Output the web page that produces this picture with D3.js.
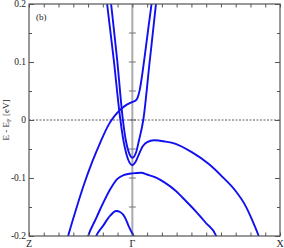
<!DOCTYPE html>
<html><head><meta charset="utf-8">
<script src="https://cdn.jsdelivr.net/npm/d3@7"></script>
<style>body{margin:0;background:#fff}svg{display:block}text{font-family:"Liberation Serif","DejaVu Serif",serif;fill:#222}</style>
</head><body><svg id="c" width="284" height="248"></svg>
<script>
// k-path in tick units: Z=-7, Gamma=0, X=10
const kLabels = [{k:-7, t:"Z"}, {k:0, t:"Γ"}, {k:10, t:"X"}];
const yTickValues = [-0.2, -0.1, 0, 0.1, 0.2];
const yTickLabels = ["-0.2", "-0.1", "0", "0.1", "0.2"];

// bands: [k, E (eV)]
const bandH = [[-4.5,-0.214],[-4.35,-0.2],[-3.8,-0.153],[-3.3,-0.113],[-2.7,-0.071],[-2.16,-0.038],[-1.6,-0.008],[-1.2,0.007],[-0.8,0.018],[-0.4,0.026],[0,0.031],[0.2,0.033],[0.35,0.038],[0.5,0.052],[0.65,0.075],[0.8,0.103],[1.05,0.152],[1.3,0.2],[1.4,0.22]];
const bandU1 = [[-1.55,0.225],[-1.44,0.2],[-1.03,0.104],[-0.64,0],[-0.45,-0.034],[-0.25,-0.055],[0,-0.065],[0.25,-0.056],[0.45,-0.035],[0.74,0],[1.17,0.1],[1.6,0.2],[1.7,0.225]];
const bandU2 = [[-1.82,0.225],[-1.71,0.2],[-1.26,0.104],[-0.81,0],[-0.6,-0.036],[-0.4,-0.059],[-0.2,-0.073],[0,-0.078],[0.2,-0.073],[0.4,-0.062],[0.68,-0.046],[1.0,-0.038],[1.47,-0.035],[2.2,-0.037],[2.93,-0.041],[4.0,-0.055],[5.18,-0.076],[6.1,-0.098],[6.98,-0.122],[7.6,-0.145],[8.11,-0.172],[8.56,-0.2],[8.7,-0.21]];
const bandB = [[-3.1,-0.21],[-2.99,-0.2],[-2.5,-0.172],[-2.16,-0.153],[-1.49,-0.119],[-1.03,-0.102],[-0.59,-0.095],[0,-0.092],[0.6,-0.091],[1.0,-0.094],[1.57,-0.099],[2.2,-0.108],[2.93,-0.122],[3.6,-0.139],[4.28,-0.157],[5.0,-0.178],[5.68,-0.2],[5.8,-0.21]];
const bandC = [[-2.6,-0.21],[-2.45,-0.2],[-2.0,-0.183],[-1.5,-0.165],[-1.1,-0.157],[-0.8,-0.159],[-0.5,-0.168],[-0.25,-0.183],[0,-0.196],[0.2,-0.205],[0.35,-0.215]];
const bands = [bandH, bandU1, bandU2, bandB, bandC];

const svg = d3.select("#c");
const L = 29, R = 280, T = 4, B = 236;
const x = d3.scaleLinear().domain([-7, 10]).range([L, R]);
const y = d3.scaleLinear().domain([-0.2, 0.2]).range([B, T]);
const axisCol = "#555";

svg.append("clipPath").attr("id","clip").append("rect")
  .attr("x",L).attr("y",T).attr("width",R-L).attr("height",B-T);

// Gamma vertical line
svg.append("line").attr("x1",x(0)).attr("x2",x(0)).attr("y1",T).attr("y2",B)
  .attr("stroke","#aaa").attr("stroke-width",2);
// ticks crossing Gamma line
const minorY = d3.range(-0.15, 0.2, 0.05).map(v => +v.toFixed(2));
svg.selectAll(".gt").data(minorY).enter().append("line")
  .attr("x1",x(0)-3.5).attr("x2",x(0)+3.5).attr("y1",d=>y(d)).attr("y2",d=>y(d))
  .attr("stroke","#777").attr("stroke-width",1);

// zero line
svg.append("line").attr("x1",L).attr("x2",R).attr("y1",y(0)).attr("y2",y(0))
  .attr("stroke","#333").attr("stroke-width",0.8).attr("stroke-dasharray","2,1.5");

// bands
const line = d3.line().x(d=>x(d[0])).y(d=>y(d[1])).curve(d3.curveMonotoneX);
svg.append("g").attr("clip-path","url(#clip)").selectAll("path").data(bands).enter()
  .append("path").attr("d", line).attr("fill","none")
  .attr("stroke","#1010f0").attr("stroke-width",1.9);

// axes (inward ticks)
const xt = d3.range(-7, 11, 1);
const gB = svg.append("g").attr("transform",`translate(0,${B})`)
  .call(d3.axisTop(x).tickValues(xt).tickSize(3.5).tickFormat(""));
const gT = svg.append("g").attr("transform",`translate(0,${T})`)
  .call(d3.axisBottom(x).tickValues(xt).tickSize(3.5).tickFormat(""));
const yMinor = d3.range(-0.15, 0.2, 0.1).map(v=>+v.toFixed(2));
const gL = svg.append("g").attr("transform",`translate(${L},0)`)
  .call(d3.axisRight(y).tickValues(yTickValues).tickSize(5).tickFormat(""));
const gLm = svg.append("g").attr("transform",`translate(${L},0)`)
  .call(d3.axisRight(y).tickValues(yMinor).tickSize(3).tickFormat(""));
const gR = svg.append("g").attr("transform",`translate(${R},0)`)
  .call(d3.axisLeft(y).tickValues(yTickValues).tickSize(5).tickFormat(""));
const gRm = svg.append("g").attr("transform",`translate(${R},0)`)
  .call(d3.axisLeft(y).tickValues(yMinor).tickSize(3).tickFormat(""));
[gB,gT,gL,gLm,gR,gRm].forEach(g=>{
  g.selectAll("path").remove();
  g.selectAll("line").attr("stroke",axisCol);
});
// frame
svg.append("rect").attr("x",L).attr("y",T).attr("width",R-L).attr("height",B-T)
  .attr("fill","none").attr("stroke",axisCol).attr("stroke-width",1.2);

// y tick labels
svg.selectAll(".yl").data(yTickValues).enter().append("text")
  .attr("x",L-3).attr("y",d=>y(d)+3).attr("text-anchor","end")
  .attr("font-size",9.5).text((d,i)=>yTickLabels[i]);
// k labels
svg.selectAll(".kl").data(kLabels).enter().append("text")
  .attr("x",d=>x(d.k)).attr("y",B+11).attr("text-anchor","middle")
  .attr("font-size",10).text(d=>d.t);

// y title
const yt = svg.append("text").attr("transform",`translate(9,${(T+B)/2}) rotate(-90)`)
  .attr("text-anchor","middle").attr("font-size",9);
yt.append("tspan").text("E - E");
yt.append("tspan").attr("font-size",6.5).attr("dy",2).text("F");
yt.append("tspan").attr("dy",-2).text(" [eV]");

// panel label
svg.append("text").attr("x",36).attr("y",20).attr("font-size",9).text("(b)");
</script></body></html>
